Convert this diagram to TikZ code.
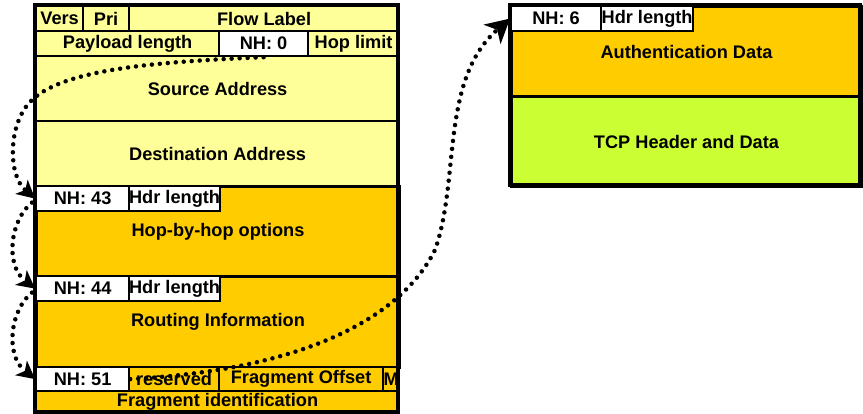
\documentclass[tikz,border=0pt]{standalone}
\usepackage{fontspec}
\setmainfont{Liberation Sans}
\usetikzlibrary{arrows.meta}
\definecolor{ipvyellow}{RGB}{255,255,153}
\definecolor{extorange}{RGB}{255,204,0}
\definecolor{tcplime}{RGB}{204,255,51}

\begin{document}
\begin{tikzpicture}[x=1pt, y=-1pt,
    field/.style={draw, line width=2.2pt, anchor=north west, inner sep=0pt,
      font=\fontsize{18.2}{20}\selectfont\bfseries},
    block/.style={field, line width=3pt},
    nh/.style={field, fill=white},
    frame/.style={line width=3.5pt},
    hop/.style={line width=4.5pt, line cap=round, dash pattern=on 0pt off 8pt,
      -{Stealth[length=18pt, width=19pt, inset=5pt, line width=0pt]}},
    longhop/.style={hop, -{Stealth[length=24pt, width=26pt, inset=7pt, line width=0pt]}}]
  \useasboundingbox (0,0) rectangle (863,414);
  % IPv6 base header
  \node[field, fill=ipvyellow, minimum width=47pt, minimum height=25pt] (vers) at (35,5) {Vers};
  \node[field, fill=ipvyellow, minimum width=46pt, minimum height=25pt] (pri) at (82,5) {Pri};
  \node[field, fill=ipvyellow, minimum width=270pt, minimum height=25pt] (flow) at (128,5) {Flow Label};
  \node[field, fill=ipvyellow, minimum width=183pt, minimum height=25pt] (paylen) at (35,30) {Payload length};
  \node[nh, minimum width=89pt, minimum height=25pt] (nh0) at (218,30) {NH: 0};
  \node[field, fill=ipvyellow, minimum width=91pt, minimum height=25pt] (hoplim) at (307,30) {Hop limit};
  \node[field, fill=ipvyellow, minimum width=363pt, minimum height=65pt] (src) at (35,55) {Source Address};
  \node[field, fill=ipvyellow, minimum width=363pt, minimum height=65pt] (dst) at (35,120) {Destination Address};
  % extension headers
  \node[block, fill=extorange, minimum width=363pt, minimum height=90pt] (hbh) at (35,185) {Hop-by-hop options};
  \node[nh, minimum width=93pt, minimum height=25pt] (nh43) at (35,185) {NH: 43};
  \node[nh, minimum width=90pt, minimum height=25pt] (len43) at (128,185) {Hdr length};
  \node[block, fill=extorange, minimum width=363pt, minimum height=91pt] (rout) at (35,275) {Routing Information};
  \node[nh, minimum width=93pt, minimum height=25pt] (nh44) at (35,275) {NH: 44};
  \node[nh, minimum width=90pt, minimum height=25pt] (len44) at (128,275) {Hdr length};
  \node[nh, minimum width=93pt, minimum height=24pt] (nh51) at (35,366) {NH: 51};
  \node[field, fill=extorange, minimum width=90pt, minimum height=24pt] (resv) at (128,366) {reserved};
  \node[field, fill=extorange, minimum width=164pt, minimum height=24pt] (offset) at (218,366) {Fragment Offset};
  \node[field, fill=extorange, minimum width=16pt, minimum height=24pt] (mflag) at (382,366) {M};
  \node[field, fill=extorange, minimum width=363pt, minimum height=22pt] (fragid) at (35,390) {Fragment identification};
  \draw[frame] (35,5) rectangle (398,412);
  % authentication header and payload
  \node[block, fill=extorange, minimum width=350pt, minimum height=90pt] (auth) at (510,5) {Authentication Data};
  \node[nh, minimum width=90pt, minimum height=25pt] (nh6) at (510,5) {NH: 6};
  \node[nh, minimum width=92pt, minimum height=25pt] (len6) at (600,5) {Hdr length};
  \node[block, fill=tcplime, minimum width=350pt, minimum height=90pt] (tcp) at (510,95) {TCP Header and Data};
  \draw[frame] (510,5) rectangle (860,185);
  % next header chain
  \draw[hop] (nh0.south) .. controls (150,62) and (60,70) .. (30,102)
    .. controls (8,125) and (8,175) .. (nh43.west);
  \draw[hop] ([xshift=-3pt, yshift=-4pt]nh43.west) .. controls (10,220) and (5,265) .. (nh44.west);
  \draw[hop] ([xshift=-3pt, yshift=-4pt]nh44.west) .. controls (10,310) and (5,355) .. (nh51.west);
  \draw[longhop] (nh51.east) .. controls (300,370) and (400,320) .. (435,250)
    .. controls (460,180) and (440,80) .. (nh6.west);
\end{tikzpicture}
\end{document}
